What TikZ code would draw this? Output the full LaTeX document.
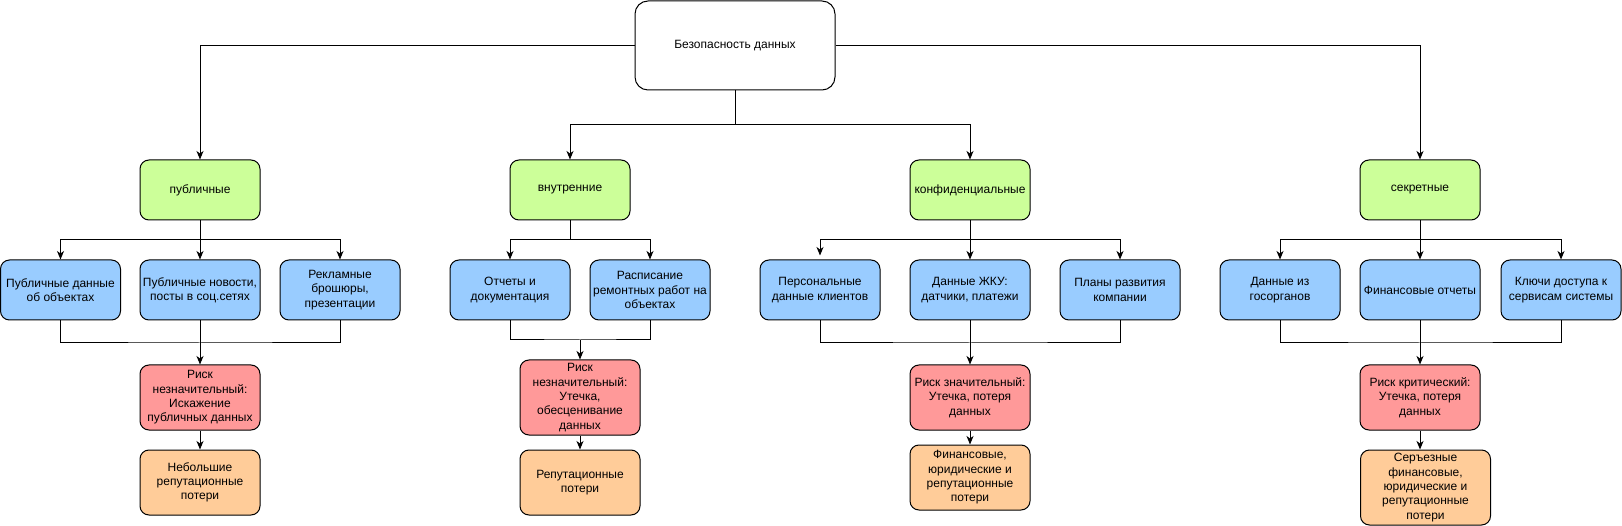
\documentclass[tikz,border=0pt]{standalone}
\usepackage{fontspec}
\setmainfont{Liberation Sans}
\usetikzlibrary{arrows.meta}
\definecolor{cgreen}{HTML}{CCFF99}
\definecolor{cblue}{HTML}{99CCFF}
\definecolor{cred}{HTML}{FF9999}
\definecolor{corange}{HTML}{FFCC99}
\tikzset{
  box/.style={draw=black, line width=1pt, rectangle, rounded corners=9pt, align=center,
    inner sep=0pt, minimum width=120pt, minimum height=60pt,
    font=\fontsize{12}{14.3}\selectfont},
  rootbox/.style={box, rounded corners=13pt, fill=white, minimum width=200pt, minimum height=89pt},
  catbox/.style={box, fill=cgreen},
  itembox/.style={box, fill=cblue},
  riskbox/.style={box, fill=cred, minimum height=65pt},
  lossbox/.style={box, fill=corange, minimum height=65pt},
  conn/.style={line width=1pt, draw=black},
  arr/.style={conn, -{Stealth[length=8.5pt,width=7pt,inset=2.5pt]}}
}
\begin{document}
\begin{tikzpicture}[x=1pt,y=-1pt]
\useasboundingbox (0,0) rectangle (1622,526);
% root
\node[rootbox] (root) at (735,45.5) {Безопасность данных};
% categories
\node[catbox] (pub)  at (200,190) {публичные};
\node[catbox] (int)  at (570,190) {внутренние};
\node[catbox] (conf) at (970,190) {конфиденциальные};
\node[catbox] (sec)  at (1420,190) {секретные};
% items
\node[itembox] (p1) at (60.5,290) {Публичные данные\\об объектах};
\node[itembox] (p2) at (200,290) {Публичные новости,\\посты в соц.сетях};
\node[itembox] (p3) at (340,290) {Рекламные\\брошюры,\\презентации};
\node[itembox] (i1) at (510,290) {Отчеты и\\документация};
\node[itembox] (i2) at (650,290) {Расписание\\ремонтных работ на\\объектах};
\node[itembox] (c1) at (820,290) {Персональные\\данные клиентов};
\node[itembox] (c2) at (970,290) {Данные ЖКУ:\\датчики, платежи};
\node[itembox] (c3) at (1120,290) {Планы развития\\компании};
\node[itembox] (s1) at (1280,290) {Данные из\\госорганов};
\node[itembox] (s2) at (1420,290) {Финансовые отчеты};
\node[itembox] (s3) at (1561,290) {Ключи доступа к\\сервисам системы};
% risks
\node[riskbox] (r1) at (200,397.5) {Риск\\незначительный:\\Искажение\\публичных данных};
\node[riskbox, minimum height=75pt] (r2) at (580,397.5) {Риск\\незначительный:\\Утечка,\\обесценивание\\данных};
\node[riskbox] (r3) at (970,397.5) {Риск значительный:\\Утечка, потеря\\данных};
\node[riskbox] (r4) at (1420,397.5) {Риск критический:\\Утечка, потеря\\данных};
% losses
\node[lossbox] (o1) at (200,482.5) {Небольшие\\репутационные\\потери};
\node[lossbox] (o2) at (580,482.5) {Репутационные\\потери};
\node[lossbox] (o3) at (970,477.5) {Финансовые,\\юридические и\\репутационные\\потери};
\node[lossbox, minimum width=130pt, minimum height=75pt] (o4) at (1425.5,487.5) {Серъезные\\финансовые,\\юридические и\\репутационные\\потери};
% root connectors
\coordinate (rj) at (735,125);
\draw[arr] (root.west) -| (pub.north);
\draw[arr] (root.east) -| (sec.north);
\draw[conn] (root.south) -- (rj);
\draw[arr] (rj) -| (int.north);
\draw[arr] (rj) -| (conf.north);
% category -> items
\coordinate (pj) at (200,240);
\draw[conn] (pub.south) -- (pj);
\draw[arr] (pj) -| (p1.north);
\draw[arr] (pj) -- (p2.north);
\draw[arr] (pj) -| (p3.north);
\coordinate (ij) at (570,240);
\draw[conn] (int.south) -- (ij);
\draw[arr] (ij) -| (i1.north);
\draw[arr] (ij) -| (i2.north);
\coordinate (cj) at (970,240);
\draw[conn] (conf.south) -- (cj);
\draw[arr, shorten >=4pt] (cj) -| (c1.north);
\draw[arr] (cj) -- (c2.north);
\draw[arr] (cj) -| (c3.north);
\coordinate (sj) at (1420,240);
\draw[conn] (sec.south) -- (sj);
\draw[arr] (sj) -| (s1.north);
\draw[arr] (sj) -- (s2.north);
\draw[arr] (sj) -| (s3.north);
% items -> risk
\coordinate (pb) at (200,343);
\draw[conn] (p1.south) |- (pb) -| (p3.south);
\draw[arr] (p2.south) -- (r1.north);
\coordinate (ib) at (580,340);
\draw[conn] (i1.south) |- (ib) -| (i2.south);
\draw[arr] (ib) -- (r2.north);
\coordinate (cb) at (970,343);
\draw[conn] (c1.south) |- (cb) -| (c3.south);
\draw[arr] (c2.south) -- (r3.north);
\coordinate (sb) at (1420,343);
\draw[conn] (s1.south) |- (sb) -| (s3.south);
\draw[arr] (s2.south) -- (r4.north);
% risk -> loss
\draw[arr] (r1.south) -- (o1.north);
\draw[arr] (r2.south) -- (o2.north);
\draw[arr] (r3.south) -- (o3.north);
\draw[arr] (r4.south) -- (r4.south |- o4.north);
\end{tikzpicture}
\end{document}
